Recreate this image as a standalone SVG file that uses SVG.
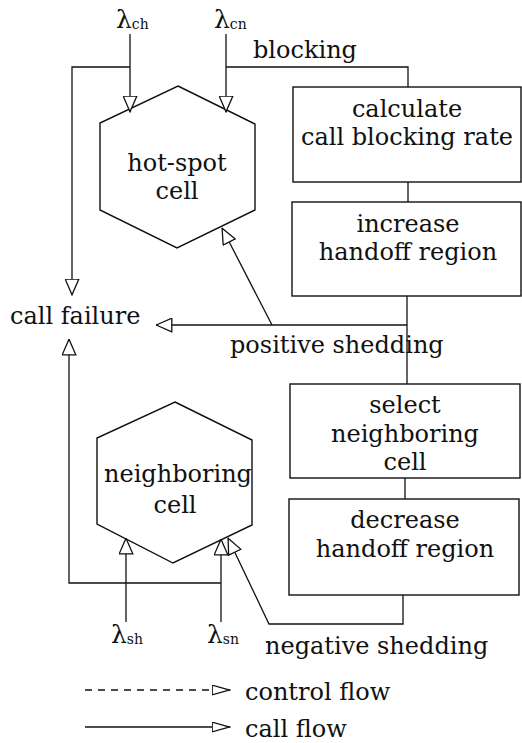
<svg xmlns="http://www.w3.org/2000/svg" width="522" height="743" viewBox="0 0 522 743">
<style>
text{font-family:"DejaVu Serif","Liberation Serif",serif;font-size:24px;fill:#111}
.c{text-anchor:middle}
.lam{font-size:25px}
.sub{font-size:14px}
.shape{fill:#fff;stroke:#111;stroke-width:1.4}
.ln{fill:none;stroke:#111;stroke-width:1.3}
.arr{marker-end:url(#ah)}
.dash{stroke-dasharray:7 6}
</style>
<defs>
<marker id="ah" viewBox="0 0 17 15" refX="16.5" refY="7.5" markerWidth="17" markerHeight="15" markerUnits="userSpaceOnUse" orient="auto">
<path d="M0.7,0.7 L16.3,7.5 L0.7,14.3 Z" fill="#fff" stroke="#111" stroke-width="1.3"/>
</marker>
<marker id="lh" viewBox="0 0 19 11" refX="18.5" refY="5.5" markerWidth="19" markerHeight="11" markerUnits="userSpaceOnUse" orient="auto">
<path d="M0.7,0.7 L18.3,5.5 L0.7,10.3 Z" fill="#fff" stroke="#111" stroke-width="1.3"/>
</marker>
</defs>

<g id="hotspot">
<polygon class="shape" points="178,86 255,124 255,210 177,248 100,210 100,123"/>
<text class="c" x="177" y="171">hot-spot</text>
<text class="c" x="177" y="199">cell</text>
</g>

<g id="neighboring">
<polygon class="shape" points="175,402 252,440 252,525 173,563 97,524 97,438"/>
<text class="c" x="178" y="482">neighboring</text>
<text class="c" x="175" y="513">cell</text>
</g>

<g id="calc">
<rect class="shape" x="293" y="87" width="228" height="95"/>
<text class="c" x="407" y="117">calculate</text>
<text class="c" x="407" y="145">call blocking rate</text>
</g>

<g id="increase">
<rect class="shape" x="292" y="202" width="229" height="94"/>
<text class="c" x="408" y="232">increase</text>
<text class="c" x="408" y="260">handoff region</text>
</g>

<g id="select">
<rect class="shape" x="290" y="384" width="230" height="94"/>
<text class="c" x="405" y="413">select</text>
<text class="c" x="405" y="442">neighboring</text>
<text class="c" x="405" y="470">cell</text>
</g>

<g id="decrease">
<rect class="shape" x="289" y="499" width="230" height="96"/>
<text class="c" x="405" y="528">decrease</text>
<text class="c" x="405" y="557">handoff region</text>
</g>

<g id="callfailure">
<text x="10" y="324">call failure</text>
</g>

<g id="connectors">
<line class="ln arr" x1="130" y1="34" x2="130" y2="112"/>
<line class="ln arr" x1="226" y1="34" x2="226" y2="112"/>
<polyline class="ln arr" points="130,67 72,67 72,295"/>
<polyline class="ln" points="226,67 408,67 408,87"/>
<line class="ln" x1="408" y1="182" x2="408" y2="202"/>
<line class="ln" x1="407" y1="296" x2="407" y2="384"/>
<polyline class="ln arr" points="407,325 156,325"/>
<line class="ln arr" x1="272" y1="325" x2="222" y2="228"/>
<line class="ln" x1="405" y1="478" x2="405" y2="499"/>
<polyline class="ln arr" points="403,595 403,624 269,624 228,538"/>
<line class="ln arr" x1="126" y1="622" x2="126" y2="538"/>
<line class="ln arr" x1="221" y1="622" x2="221" y2="539"/>
<polyline class="ln arr" points="221,583 69,583 69,339"/>
</g>

<g id="labels">
<text class="lam" x="116" y="28">λ<tspan class="sub" dy="1">ch</tspan></text>
<text class="lam" x="214" y="28">λ<tspan class="sub" dy="1">cn</tspan></text>
<text x="253" y="58">blocking</text>
<text x="230" y="353">positive shedding</text>
<text class="lam" x="111" y="643">λ<tspan class="sub" dy="1">sh</tspan></text>
<text class="lam" x="207" y="643">λ<tspan class="sub" dy="1">sn</tspan></text>
<text x="265" y="654">negative shedding</text>
</g>

<g id="legend">
<line class="ln dash" x1="85" y1="690" x2="230" y2="690" style="marker-end:url(#lh)"/>
<text x="245" y="700">control flow</text>
<line class="ln" x1="85" y1="727" x2="230" y2="727" style="marker-end:url(#lh)"/>
<text x="245" y="737">call flow</text>
</g>
</svg>
